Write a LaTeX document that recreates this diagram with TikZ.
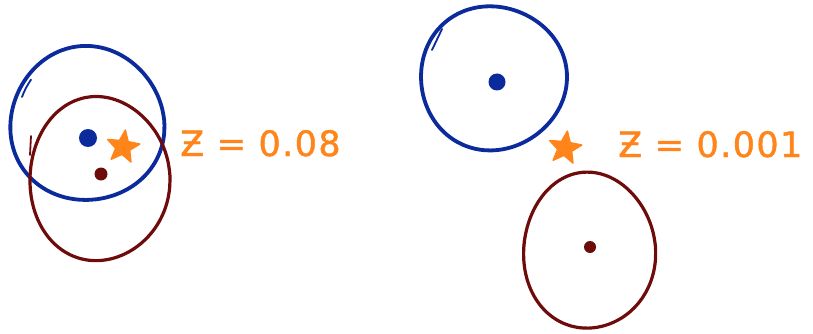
\documentclass[tikz,border=0pt]{standalone}
\usepackage{fontspec}
\setmainfont{DejaVu Sans}
\usetikzlibrary{shapes.geometric}
\definecolor{penblue}{HTML}{0B2A9C}
\definecolor{penred}{HTML}{6E0B0B}
\definecolor{penorange}{HTML}{FF851B}
\tikzset{
 bluering/.style={draw=penblue, line width=3.8pt, line cap=round},
 redring/.style={draw=penred, line width=3.2pt, line cap=round},
 orangestar/.style={star, star points=5, star point ratio=2.3, fill=penorange, draw=penorange, line width=1.5pt, line join=round, inner sep=0pt, minimum size=34pt},
 bluedot/.style={circle, fill=penblue, inner sep=0pt, minimum size=#1},
 reddot/.style={circle, fill=penred, inner sep=0pt, minimum size=#1},
 zlabel/.style={text=penorange, font=\fontsize{35}{40}\selectfont\addfontfeature{LetterSpace=4,FakeBold=1.2}, anchor=base west, inner sep=0pt}
}
\newcommand\wobblering[6]{%
 \draw[#6] plot[domain=0:355, samples=48, smooth cycle, variable=\t]
  ({#1+#3*(1+0.015*sin(3*\t+#5))*cos(\t)}, {#2+#4*(1+0.015*sin(3*\t+#5))*sin(\t)});
}
\begin{document}
\begin{tikzpicture}[x=1pt,y=-1pt]
\useasboundingbox[fill=white] (0,0) rectangle (813,334);
% left group
\wobblering{87}{124}{77}{77}{20}{bluering}
\draw[bluering, line width=1.8pt] (22,97) arc[start angle=200, end angle=215, radius=75];
\wobblering{99}{179}{70}{82}{70}{redring}
\draw[redring, line width=1.8pt] (31,136) -- (30,155);
\node[bluedot=18pt] (b1) at (88,138) {};
\node[reddot=13pt] (r1) at (101,174) {};
\node[orangestar, rotate=-8] (s1) at (123,147) {};
\node[zlabel] (t1) at (180,156) {Ƶ = 0.08};
% right group
\wobblering{493}{78}{73}{72}{110}{bluering}
\draw[bluering, line width=1.8pt] (432,50) -- (442,29);
\wobblering{589}{251}{66}{78}{40}{redring}
\draw[redring, line width=1.8pt] (524,238) -- (523,257);
\node[bluedot=17pt] (b2) at (497,82) {};
\node[reddot=12pt] (r2) at (590,247) {};
\node[orangestar, rotate=-8] (s2) at (565,148) {};
\node[zlabel] (t2) at (618,157) {Ƶ = 0.001};
\end{tikzpicture}
\end{document}
